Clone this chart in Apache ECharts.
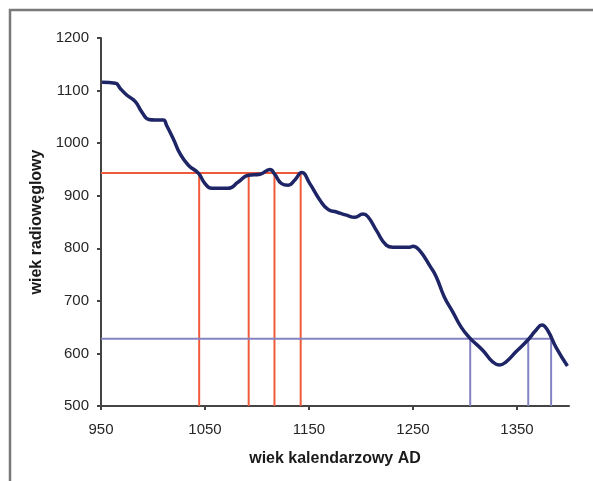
<!DOCTYPE html>
<html>
<head>
<meta charset="utf-8">
<script src="https://cdn.jsdelivr.net/npm/echarts@6/dist/echarts.min.js"></script>
<style>
html,body{margin:0;padding:0;background:#fff;}
#chart{width:593px;height:481px;}
</style>
</head>
<body>
<div id="chart"></div>
<script>
// calendar age (AD) and radiocarbon age of the calibration curve
const calYears = [951, 964, 968.5, 975, 983, 989, 996, 1002, 1010, 1013, 1020, 1026, 1034, 1043.6, 1050, 1056.5, 1072, 1082, 1091.6, 1103, 1112.4, 1117, 1123.6, 1130, 1136.4, 1143, 1150.8, 1160.4, 1168.3, 1176.4, 1186, 1194, 1202, 1206.7, 1214.8, 1224.3, 1230.7, 1246.7, 1250, 1256.3, 1266.7, 1272.3, 1280, 1288.2, 1296.3, 1304.3, 1317, 1326.6, 1333, 1339.5, 1349, 1360.2, 1368.2, 1374, 1379.4, 1387.4, 1398.5];
const radioAges = [1116, 1114, 1104, 1091, 1079, 1060, 1045, 1044, 1044, 1034, 1006, 980, 958, 943, 923, 914, 914, 926, 939, 941, 950, 941, 923, 920, 930, 944, 923, 892, 874, 869, 863, 859, 865, 860, 834, 806, 802, 802, 804, 796, 765, 746, 708, 679, 650, 630, 606, 584, 578, 584, 603, 625, 644, 654, 644, 612, 576];

// red reading: radiocarbon level and its calendar intersections
const redLevel = 943;
const redYears = [1044.4, 1092, 1116.8, 1142];
// blue reading
const blueLevel = 628;
const blueYears = [1305, 1360.8, 1382.8];

const xTicks = [950, 1050, 1150, 1250, 1350];
const yTicks = [500, 600, 700, 800, 900, 1000, 1100, 1200];

const xMin = 950, xMax = 1400, yMin = 500, yMax = 1200;

const chart = echarts.init(document.getElementById('chart'), null, {renderer: 'canvas'});

function refSeries(level, years, color) {
  const s = [];
  s.push({
    type: 'line', data: [[xMin, level], [years[years.length - 1], level]],
    symbol: 'none', silent: true, z: 2,
    lineStyle: {color: color, width: 2}
  });
  years.forEach(y => {
    s.push({
      type: 'line', data: [[y, yMin], [y, level]],
      symbol: 'none', silent: true, z: 2,
      lineStyle: {color: color, width: 2}
    });
  });
  return s;
}

const labelFont = {fontFamily: 'Liberation Sans, Arial, sans-serif', fontSize: 15, color: '#262626', formatter: v => String(v)};
const titleFont = {fontFamily: 'Liberation Sans, Arial, sans-serif', fontSize: 16, fontWeight: 'bold', color: '#1a1a1a'};

const option = {
  animation: false,
  backgroundColor: '#fff',
  grid: {left: 101, top: 38, right: 24, bottom: 75, containLabel: false},
  xAxis: {
    type: 'value', min: xMin, max: xMax, interval: 100,
    name: 'wiek kalendarzowy AD', nameLocation: 'middle', nameGap: 45,
    nameTextStyle: titleFont,
    axisLine: {show: true, lineStyle: {color: '#444', width: 2}},
    axisTick: {show: true, length: 4, customValues: xTicks, lineStyle: {color: '#444', width: 2}},
    axisLabel: Object.assign({customValues: xTicks, margin: 16}, labelFont),
    splitLine: {show: false}
  },
  yAxis: {
    type: 'value', min: yMin, max: yMax, interval: 100,
    name: 'wiek radiowęglowy', nameLocation: 'middle', nameGap: 56, nameRotate: 90,
    nameTextStyle: titleFont,
    axisLine: {show: true, lineStyle: {color: '#444', width: 2}},
    axisTick: {show: true, length: 4, customValues: yTicks, lineStyle: {color: '#444', width: 2}},
    axisLabel: Object.assign({customValues: yTicks, margin: 12}, labelFont),
    splitLine: {show: false}
  },
  graphic: [{
    type: 'polyline', silent: true, z: 100,
    shape: {points: [[10, 481], [10, 10], [593, 10]]},
    style: {stroke: '#7a7a7a', lineWidth: 2.5, fill: null}
  }],
  series: [
    ...refSeries(redLevel, redYears, '#f05a3a'),
    ...refSeries(blueLevel, blueYears, '#8383c4'),
    {
      type: 'line', data: calYears.map((x, i) => [x, radioAges[i]]),
      smooth: 0.5, symbol: 'none', z: 5,
      lineStyle: {color: '#1e2566', width: 3.5}
    }
  ]
};
chart.setOption(option);
</script>
</body>
</html>
